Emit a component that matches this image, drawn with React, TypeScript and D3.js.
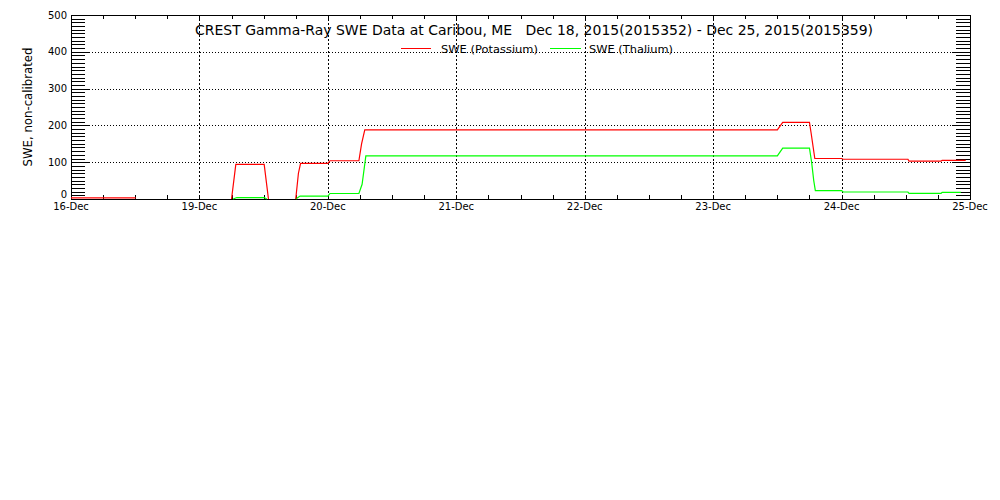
import React from "react";
import * as d3 from "d3";

// Hours since Dec 18, 2015 00:00 ; null value = gap in record
const potassiumHours = [0, 12.1, 12.2, 30.0, 30.8, 36.1, 36.9, 37.0, 42.0, 42.5, 42.9, 48.0, 48.4, 53.8, 54.3, 54.9, 132.0, 133.0, 138.0, 138.3, 138.7, 139.0, 144.0, 144.3, 156.4, 156.6, 162.6, 162.8, 167.2];
const potassiumValues: (number | null)[] = [3, 3, null, 0, 94, 94, 0, null, 0, 70, 97, 97, 104, 104, 150, 188, 188, 208, 208, 180, 140, 110, 110, 108, 108, 103, 103, 105, 105];
const thaliumHours = [30.3, 31.0, 36.1, 36.6, 36.7, 42.0, 42.8, 48.0, 48.4, 53.8, 54.4, 55.1, 132.0, 133.0, 138.0, 138.4, 138.8, 139.1, 144.0, 144.3, 156.4, 156.6, 162.6, 162.8, 166.3];
const thaliumValues: (number | null)[] = [0, 4, 4, 0, null, 0, 8, 8, 15, 15, 40, 117, 117, 138, 138, 100, 50, 23, 23, 19, 19, 15.5, 15.5, 18, 18];

const dayLabels = ["16-Dec", "19-Dec", "20-Dec", "21-Dec", "22-Dec", "23-Dec", "24-Dec", "25-Dec"];
const yMajorTicks = [0, 100, 200, 300, 400, 500];
const titleText = "CREST Gamma-Ray SWE Data at Caribou, ME   Dec 18, 2015(2015352) - Dec 25, 2015(2015359)";
const yAxisTitle = "SWE, non-calibrated";
const seriesNames = ["SWE (Potassium)", "SWE (Thalium)"];
const seriesColors = ["#ff0000", "#00ff00"];

const FONT = "DejaVu Sans, sans-serif";

export default function App() {
  const W = 1000, H = 500;
  const left = 71, right = 970, top = 15, bottom = 199;
  const x = d3.scaleLinear().domain([0, 168]).range([left, right]);
  const y = d3.scaleLinear().domain([0, 500]).range([bottom, top]);

  const mkLine = (hours: number[], vals: (number | null)[]) =>
    d3.line<number>()
      .defined((_, i) => vals[i] !== null)
      .x((h) => x(h))
      .y((_, i) => y(vals[i] as number))(hours) || "";

  const yMinor = d3.range(0, 501, 10);
  const xMinor = d3.range(0, 169, 6);
  const dayHours = d3.range(0, 169, 24);

  return (
    <svg width={W} height={H} style={{ position: "absolute", left: 0, top: 0, background: "#fff" }} fontFamily={FONT}>
      <rect x={0} y={0} width={W} height={H} fill="#fff" />
      {/* horizontal dotted grid */}
      {yMajorTicks.filter((v) => v > 0 && v < 500).map((v) => (
        <line key={"hg" + v} x1={left} x2={right} y1={Math.round(y(v)) + 0.5} y2={Math.round(y(v)) + 0.5}
          stroke="#000" strokeDasharray="1,2" shapeRendering="crispEdges" />
      ))}
      {/* vertical dotted grid */}
      {dayHours.filter((h) => h > 0 && h < 168).map((h) => (
        <line key={"vg" + h} x1={Math.round(x(h)) + 0.5} x2={Math.round(x(h)) + 0.5} y1={top} y2={bottom}
          stroke="#000" strokeDasharray="2,2" shapeRendering="crispEdges" />
      ))}
      {/* y minor + major ticks, both sides */}
      {yMinor.map((v) => {
        const len = v % 100 === 0 ? 18 : 14;
        const yy = Math.round(y(v)) + 0.5;
        return (
          <g key={"yt" + v} stroke="#000" shapeRendering="crispEdges">
            <line x1={left} x2={left + len} y1={yy} y2={yy} />
            <line x1={right} x2={right - len} y1={yy} y2={yy} />
          </g>
        );
      })}
      {/* x minor ticks top and bottom */}
      {xMinor.map((h) => {
        const xx = Math.round(x(h)) + 0.5;
        return (
          <g key={"xt" + h} stroke="#000" shapeRendering="crispEdges">
            <line x1={xx} x2={xx} y1={bottom} y2={bottom - 4} />
            <line x1={xx} x2={xx} y1={top} y2={top + 4} />
          </g>
        );
      })}
      {/* frame */}
      <rect x={left + 0.5} y={top + 0.5} width={right - left} height={bottom - top} fill="none" stroke="#000" shapeRendering="crispEdges" />
      {/* y tick labels */}
      {yMajorTicks.map((v) => (
        <text key={"yl" + v} x={left - 4} y={Math.min(y(v) + 3.5, bottom - 1)} fontSize={10} textAnchor="end" fill="#000">{v}</text>
      ))}
      {/* x tick labels */}
      {dayHours.map((h, i) => (
        <text key={"xl" + h} x={x(h)} y={210} fontSize={10} textAnchor="middle" fill="#000">{dayLabels[i]}</text>
      ))}
      {/* y axis title */}
      <text transform={`translate(32,107) rotate(-90)`} fontSize={12} textAnchor="middle" fill="#000"
        textLength={119} lengthAdjust="spacingAndGlyphs">{yAxisTitle}</text>
      {/* title */}
      <text x={195} y={35} fontSize={14} fill="#000" textLength={678} lengthAdjust="spacingAndGlyphs"
        style={{ whiteSpace: "pre" }}>{titleText}</text>
      {/* legend */}
      <line x1={401} x2={431} y1={48.5} y2={48.5} stroke={seriesColors[0]} shapeRendering="crispEdges" />
      <text x={441} y={53} fontSize={11} fill="#000" textLength={97} lengthAdjust="spacingAndGlyphs">{seriesNames[0]}</text>
      <line x1={550} x2={581} y1={48.5} y2={48.5} stroke={seriesColors[1]} shapeRendering="crispEdges" />
      <text x={589} y={53} fontSize={11} fill="#000" textLength={84} lengthAdjust="spacingAndGlyphs">{seriesNames[1]}</text>
      {/* data */}
      <path d={mkLine(thaliumHours, thaliumValues)} fill="none" stroke={seriesColors[1]} strokeWidth={1.2} />
      <path d={mkLine(potassiumHours, potassiumValues)} fill="none" stroke={seriesColors[0]} strokeWidth={1.2} />
    </svg>
  );
}
